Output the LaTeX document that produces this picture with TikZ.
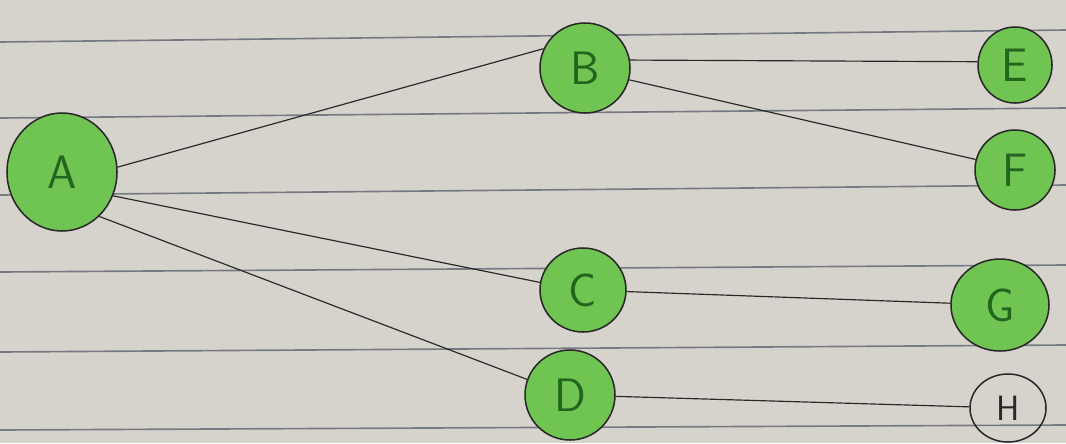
\documentclass[tikz,border=0pt]{standalone}
\usetikzlibrary{shapes.geometric}
\definecolor{paper}{RGB}{214,211,204}
\definecolor{rule}{RGB}{95,100,112}
\definecolor{leaf}{RGB}{112,196,82}
\definecolor{ink}{RGB}{40,40,40}
\definecolor{letter}{RGB}{35,100,30}
\begin{document}
\begin{tikzpicture}[x=0.03cm,y=-0.03cm,
  vert/.style={ellipse,draw=ink,line width=1.3pt,fill=leaf,inner sep=0pt,
    font=\sffamily\fontsize{40}{40}\selectfont,text=letter},
  blank/.style={vert,fill=none,text=ink,font=\sffamily\fontsize{30}{30}\selectfont},
  edge/.style={draw=ink,line width=1pt},
  ruling/.style={draw=rule,line width=1.4pt,opacity=0.8}]
\fill[paper] (0,0) rectangle (1066,443);
\useasboundingbox (0,0) rectangle (1066,443);
\foreach \a/\b in {42/30,118/108,195/185,272/265,352/345,430/425}
  \draw[ruling] (0,\a) -- (1066,\b);
\node[vert,minimum width=110*0.03cm,minimum height=118*0.03cm] (A) at (62,172) {A};
\node[vert,minimum width=90*0.03cm,minimum height=90*0.03cm] (B) at (585,68) {B};
\node[vert,minimum width=74*0.03cm,minimum height=76*0.03cm] (E) at (1015,65) {E};
\node[vert,minimum width=80*0.03cm,minimum height=80*0.03cm] (F) at (1015,170) {F};
\node[vert,minimum width=86*0.03cm,minimum height=84*0.03cm] (C) at (583,290) {C};
\node[vert,minimum width=98*0.03cm,minimum height=92*0.03cm] (G) at (1000,305) {G};
\node[vert,minimum width=90*0.03cm,minimum height=90*0.03cm] (D) at (570,395) {D};
\node[blank,minimum width=76*0.03cm,minimum height=68*0.03cm] (H) at (1008,408) {H};
\draw[edge] (A.5) -- (B.155);
\draw[edge] (A.-25) -- (C.170);
\draw[edge] (A.-50) -- (D.160);
\draw[edge] (B.10) -- (E.175);
\draw[edge] (B.-15) -- (F.165);
\draw[edge] (C) -- (G);
\draw[edge] (D) -- (H);
\end{tikzpicture}
\end{document}
